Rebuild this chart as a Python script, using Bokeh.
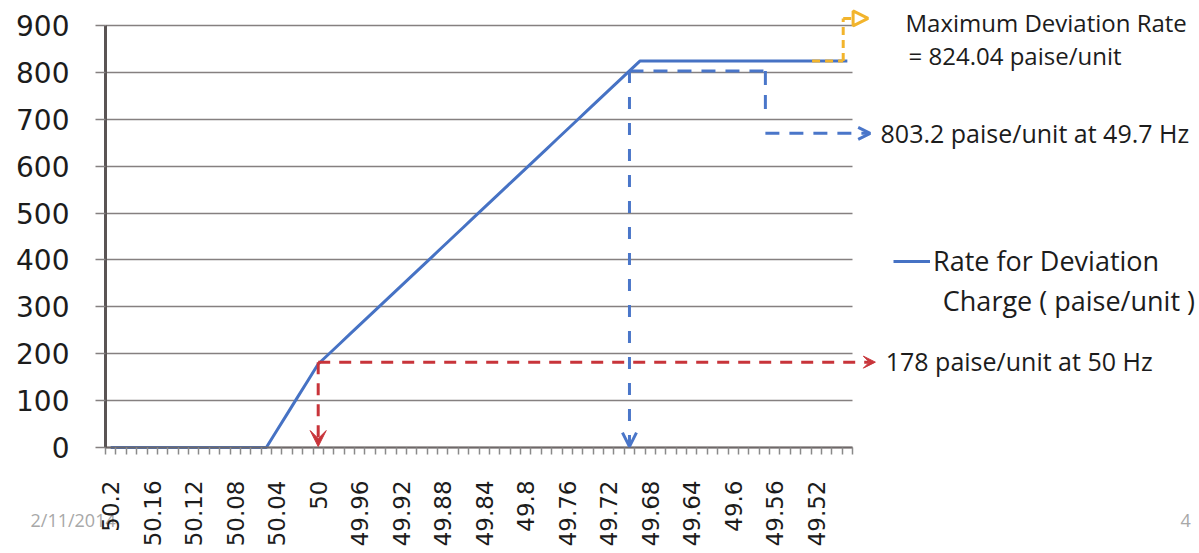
from bokeh.plotting import figure
from bokeh.models import (Range1d, FixedTicker, Arrow, OpenHead, NormalHead, VeeHead,
                          Label, Legend, LegendItem, CustomJSTickFormatter)
from bokeh.embed import file_html
from bokeh.resources import INLINE

# ---------------- data ----------------
freq = [50.2, 50.19, 50.18, 50.17, 50.16, 50.15, 50.14, 50.13, 50.12, 50.11, 50.1, 50.09,
        50.08, 50.07, 50.06, 50.05, 50.04, 50.03, 50.02, 50.01, 50.0,
        49.99, 49.98, 49.97, 49.96, 49.95, 49.94, 49.93, 49.92, 49.91, 49.9,
        49.89, 49.88, 49.87, 49.86, 49.85, 49.84, 49.83, 49.82, 49.81, 49.8,
        49.79, 49.78, 49.77, 49.76, 49.75, 49.74, 49.73, 49.72, 49.71, 49.7,
        49.69, 49.68, 49.67, 49.66, 49.65, 49.64, 49.63, 49.62, 49.61, 49.6,
        49.59, 49.58, 49.57, 49.56, 49.55, 49.54, 49.53, 49.52, 49.51, 49.5, 49.49]
rate = [0, 0, 0, 0, 0, 0, 0, 0, 0, 0, 0, 0,
        0, 0, 0, 0, 35.6, 71.2, 106.8, 142.4, 178,
        198.84, 219.68, 240.52, 261.36, 282.2, 303.04, 323.88, 344.72, 365.56, 386.4,
        407.24, 428.08, 448.92, 469.76, 490.6, 511.44, 532.28, 553.12, 573.96, 594.8,
        615.64, 636.48, 657.32, 678.16, 699.0, 719.84, 740.68, 761.52, 782.36, 803.2,
        824.04, 824.04, 824.04, 824.04, 824.04, 824.04, 824.04, 824.04, 824.04, 824.04,
        824.04, 824.04, 824.04, 824.04, 824.04, 824.04, 824.04, 824.04, 824.04, 824.04, 824.04]
tick_labels = ["50.2", "50.16", "50.12", "50.08", "50.04", "50", "49.96", "49.92", "49.88",
               "49.84", "49.8", "49.76", "49.72", "49.68", "49.64", "49.6", "49.56", "49.52"]
y_ticks = [0, 100, 200, 300, 400, 500, 600, 700, 800, 900]

series_name = "Rate for Deviation"
series_name2 = "Charge ( paise/unit )"
ann_max1 = "Maximum Deviation Rate"
ann_max2 = "= 824.04 paise/unit"
ann_497 = "803.2 paise/unit at 49.7 Hz"
ann_50 = "178 paise/unit at 50 Hz"
footer_date = "2/11/2014"
footer_page = "4"

# ---------------- styles / layout ----------------
BLUE = "#4672c4"
BLUE_D = "#4a76c9"
RED = "#c8343a"
YELLOW = "#f2b42c"
TXT = "#1c1c1c"
GRID = "#858080"
TICKF = "DejaVu Sans"
ANNF = "Open Sans"

X_LO, X_HI = 50.205, 49.485      # extent of the data area (category edges)

p = figure(width=1199, height=553, output_backend="svg", toolbar_location=None,
           x_range=Range1d(50.3062, 49.1506), y_range=Range1d(-226.1, 953.3),
           min_border_left=0, min_border_right=0, min_border_top=0, min_border_bottom=0)
p.outline_line_color = None
p.background_fill_color = "white"
p.border_fill_color = "white"

# axes (drawn inside the canvas at fixed positions)
ticks = [float(s) for s in tick_labels]
xax = p.xaxis[0]
xax.fixed_location = 0
xax.bounds = (X_HI, X_LO)
xax.ticker = FixedTicker(ticks=ticks,
                         minor_ticks=[f + 0.005 for f in freq] + [freq[-1] - 0.005])
xax.formatter = CustomJSTickFormatter(args=dict(labels=tick_labels, vals=ticks), code="""
for (let i = 0; i < vals.length; i++) { if (Math.abs(vals[i] - tick) < 1e-6) return labels[i]; }
return "";
""")
xax.major_label_orientation = 1.5707963
xax.major_tick_out = 0
xax.major_tick_in = 0
xax.minor_tick_out = 7
xax.minor_tick_in = 0
xax.minor_tick_line_color = "#8a8a8a"
xax.minor_tick_line_width = 1.5
xax.major_label_standoff = 26
xax.major_label_text_font = TICKF
xax.major_label_text_font_size = "23px"
xax.major_label_text_color = TXT
xax.axis_line_color = "#6e6868"
xax.axis_line_width = 2

yax = p.yaxis[0]
yax.fixed_location = X_LO
yax.bounds = (0, 900)
yax.ticker = FixedTicker(ticks=y_ticks)
yax.major_tick_out = 10
yax.major_tick_in = 0
yax.major_tick_line_color = GRID
yax.major_tick_line_width = 1.5
yax.minor_tick_out = 0
yax.minor_tick_in = 0
yax.major_label_standoff = 26
yax.major_label_text_font = TICKF
yax.major_label_text_font_size = "28px"
yax.major_label_text_color = TXT
yax.axis_line_color = "#5a5454"
yax.axis_line_width = 3

p.xgrid.grid_line_color = None
p.ygrid.ticker = FixedTicker(ticks=y_ticks)
try:
    p.ygrid.cross_bounds = (X_HI, X_LO)
    p.ygrid.grid_line_color = GRID
    p.ygrid.grid_line_width = 1.5
except Exception:
    p.ygrid.grid_line_color = None
    p.segment(x0=[X_LO] * len(y_ticks), x1=[X_HI] * len(y_ticks), y0=y_ticks, y1=y_ticks,
              line_color=GRID, line_width=1.5)

# footer texts of the slide (behind the axis labels)
p.add_layout(Label(x=50.2773, y=-155.7, text=footer_date, text_font=ANNF, text_font_size="18px",
                   text_color="#a8a8a8", text_baseline="middle", level="underlay"))
p.add_layout(Label(x=49.169, y=-155.7, text=footer_page, text_font=ANNF, text_font_size="18px",
                   text_color="#a8a8a8", text_baseline="middle", level="underlay"))

# main series
r = p.line(freq, rate, line_color=BLUE, line_width=3)

legend = Legend(items=[LegendItem(label=series_name, renderers=[r])],
                location=(893, 274), border_line_alpha=0, background_fill_alpha=0,
                padding=0, margin=0, spacing=0, glyph_width=37, glyph_height=28,
                label_height=28, label_standoff=3, label_text_font=ANNF,
                label_text_font_size="27px", label_text_color=TXT)
p.add_layout(legend)

# ---- annotation arrows ----
# red (50 Hz)
p.add_layout(Arrow(x_start=50.0, y_start=182, x_end=50.0, y_end=2,
                   line_color=RED, line_width=3, line_dash="12 9",
                   end=VeeHead(size=16, fill_color=RED, line_color=RED)))
p.add_layout(Arrow(x_start=50.0, y_start=182, x_end=49.463, y_end=182,
                   line_color=RED, line_width=3, line_dash="12 9",
                   end=VeeHead(size=12, fill_color=RED, line_color=RED)))
# blue (49.7 Hz)
p.add_layout(Arrow(x_start=49.7, y_start=803.2, x_end=49.7, y_end=2,
                   line_color=BLUE_D, line_width=3, line_dash="12 14",
                   end=OpenHead(size=14, line_color=BLUE_D, line_width=3)))
p.add_layout(Arrow(x_start=49.7, y_start=803.2, x_end=49.569, y_end=803.2,
                   line_color=BLUE_D, line_width=3, line_dash="14 10", end=None))
p.add_layout(Arrow(x_start=49.569, y_start=803.2, x_end=49.569, y_end=702,
                   line_color=BLUE_D, line_width=3, line_dash="14 10", end=None))
p.add_layout(Arrow(x_start=49.569, y_start=670, x_end=49.468, y_end=670,
                   line_color=BLUE_D, line_width=3, line_dash="14 10",
                   end=OpenHead(size=12, line_color=BLUE_D, line_width=3)))
# yellow (maximum)
p.add_layout(Arrow(x_start=49.524, y_start=824.04, x_end=49.494, y_end=824.04,
                   line_color=YELLOW, line_width=3, line_dash="8 5", end=None))
p.add_layout(Arrow(x_start=49.494, y_start=824.04, x_end=49.494, y_end=915,
                   line_color=YELLOW, line_width=3, line_dash="8 5", end=None))
p.add_layout(Arrow(x_start=49.494, y_start=915, x_end=49.470, y_end=915,
                   line_color=YELLOW, line_width=3, line_dash="8 5",
                   end=NormalHead(size=15, line_color=YELLOW, line_width=3,
                                  fill_color="white", fill_alpha=0)))

# ---- annotation texts ----
def lab(x, y, t, size):
    p.add_layout(Label(x=x, y=y, text=t, text_font=ANNF, text_font_size=size,
                       text_color=TXT, text_baseline="middle", text_align="left"))

lab(49.434, 906.4, ann_max1, "24px")
lab(49.431, 836, ann_max2, "24px")
lab(49.458, 669.7, ann_497, "25px")
lab(49.453, 185.5, ann_50, "25px")
lab(49.398, 313.5, series_name2, "27px")

open("out.html", "w").write(file_html(p, INLINE))
